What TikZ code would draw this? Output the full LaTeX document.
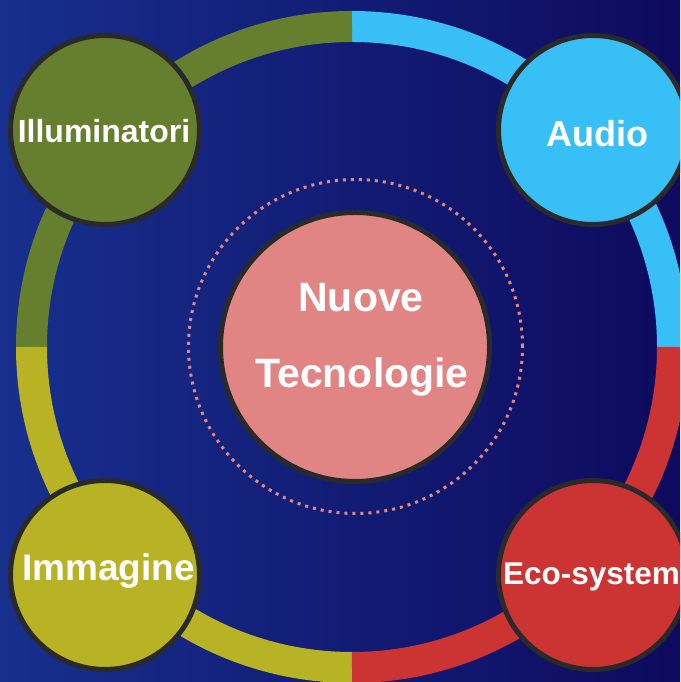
\documentclass[tikz,border=0pt]{standalone}
\usepackage{fontspec}
\setmainfont{Liberation Sans}
\definecolor{bgL}{HTML}{172F8D}
\definecolor{bgR}{HTML}{0E0A5E}
\definecolor{cOlive}{HTML}{667F2E}
\definecolor{cBlue}{HTML}{38BFF5}
\definecolor{cRed}{HTML}{CC3333}
\definecolor{cYellow}{HTML}{B8B225}
\definecolor{cPink}{HTML}{E08584}
\definecolor{cBorder}{HTML}{2A2A2A}
\definecolor{cDot}{HTML}{E8857E}
\tikzset{
  ringarc/.style={line width=31pt},
  bubble/.style={circle, draw=cBorder, line width=5pt, minimum size=189pt, inner sep=0pt},
  lbl/.style={text=white, font=\bfseries, anchor=base, inner sep=0pt},
}
\begin{document}
\begin{tikzpicture}[x=1pt,y=1pt]
\useasboundingbox (0,0) rectangle (680,682);
\clip (0,0) rectangle (680,682);
\shade[left color=bgL, right color=bgR] (0,0) rectangle (680,682);
% ring
\coordinate (rc) at (352,335);
\draw[ringarc, cBlue]   ([shift={(0:320.5)}]rc) arc[start angle=0, end angle=90, radius=320.5];
\draw[ringarc, cOlive]  ([shift={(90:320.5)}]rc) arc[start angle=90, end angle=180, radius=320.5];
\draw[ringarc, cYellow] ([shift={(180:320.5)}]rc) arc[start angle=180, end angle=270, radius=320.5];
\draw[ringarc, cRed]    ([shift={(270:320.5)}]rc) arc[start angle=270, end angle=360, radius=320.5];
% dotted circle
\coordinate (dc) at (355.5,335.5);
\draw[cDot, line width=3pt, dash pattern=on 3pt off 5pt] (dc) circle[radius=167];
% central
\node[bubble, fill=cPink, minimum size=269pt] (ctr) at (355,335) {};
\node[lbl, font=\bfseries\fontsize{41}{41}\selectfont] (t1) at (361,370) {Nuove};
\node[lbl, font=\bfseries\fontsize{41}{41}\selectfont] (t2) at (362,294) {Tecnologie};
% satellites
\node[bubble, fill=cOlive] (ill) at (105,552) {};
\node[bubble, fill=cBlue] (aud) at (593,552) {};
\node[bubble, fill=cYellow] (imm) at (105,107) {};
\node[bubble, fill=cRed] (eco) at (593,107) {};
\node[lbl, font=\bfseries\fontsize{32}{32}\selectfont] (l1) at (104,539) {Illuminatori};
\node[lbl, font=\bfseries\fontsize{36}{36}\selectfont] (l2) at (597,535) {Audio};
\node[lbl, font=\bfseries\fontsize{37}{37}\selectfont] (l3) at (108.5,101) {Immagine};
\node[lbl, font=\bfseries\fontsize{31.5}{31.5}\selectfont] (l4) at (591.5,97) {Eco-system};
\end{tikzpicture}
\end{document}
